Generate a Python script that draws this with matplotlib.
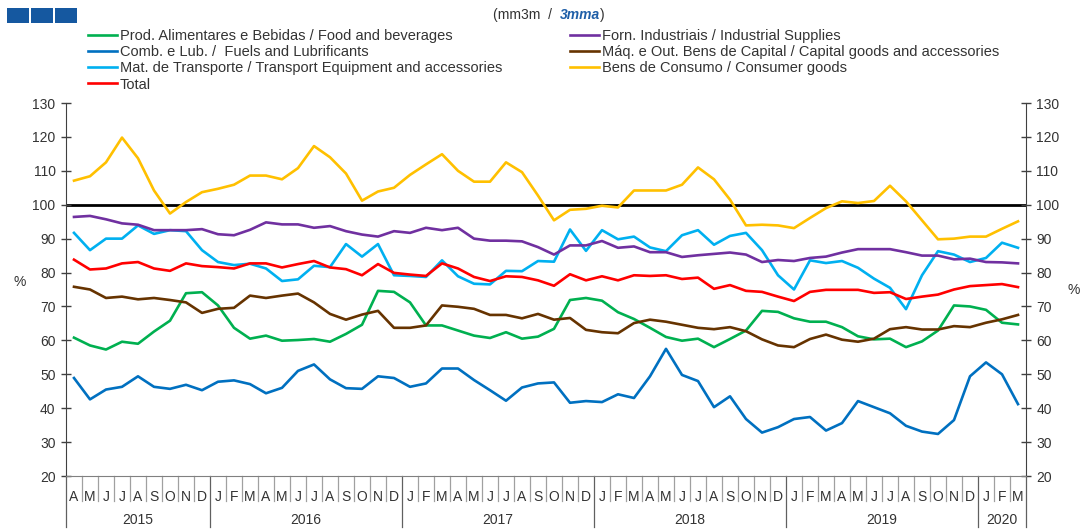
import matplotlib
matplotlib.use("Agg")
import matplotlib.pyplot as plt
import matplotlib.transforms as mtransforms
from matplotlib.patches import Rectangle

plt.rcParams['font.family'] = ['Liberation Sans', 'DejaVu Sans']

# months Apr 2015 .. Mar 2020
month_labels = list("AMJJASOND") + list("JFMAMJJASOND") * 4 + list("JFM")
years = ['2015', '2016', '2017', '2018', '2019', '2020']
year_len = [9, 12, 12, 12, 12, 3]

food = [60.8, 58.5, 57.3, 59.6, 59.0, 62.6, 65.8, 73.9, 74.2, 70.3, 63.7, 60.5, 61.4, 59.9, 60.1, 60.4, 59.6, 61.9, 64.6, 74.6,
        74.3, 71.2, 64.4, 64.4, 62.9, 61.4, 60.7, 62.4, 60.5, 61.1, 63.4, 71.9, 72.5, 71.7, 68.3, 66.3, 63.7, 61.0, 59.9, 60.5,
        58.0, 60.4, 62.9, 68.7, 68.4, 66.5, 65.5, 65.5, 63.9, 61.2, 60.3, 60.5, 58.0, 59.7, 62.9, 70.3, 70.0, 69.0, 65.2, 64.7]
fuels = [48.9, 42.6, 45.5, 46.3, 49.4, 46.3, 45.7, 46.9, 45.3, 47.8, 48.2, 47.1, 44.4, 46.0, 51.0, 52.9, 48.5, 45.9, 45.7, 49.4,
         48.9, 46.3, 47.3, 51.7, 51.7, 48.3, 45.3, 42.2, 46.1, 47.3, 47.6, 41.6, 42.1, 41.8, 44.1, 43.0, 49.4, 57.5, 49.8, 48.0,
         40.3, 43.5, 36.8, 32.8, 34.4, 36.8, 37.4, 33.4, 35.6, 42.1, 40.3, 38.5, 34.8, 33.1, 32.4, 36.5, 49.4, 53.5, 50.0, 41.2]
transport = [91.7, 86.6, 90.0, 90.0, 93.9, 91.4, 92.5, 92.2, 86.6, 83.1, 82.2, 82.6, 81.2, 77.5, 78.0, 82.0, 81.6, 88.4, 84.7, 88.4,
             79.2, 79.0, 78.7, 83.6, 78.9, 76.7, 76.5, 80.5, 80.4, 83.4, 83.2, 92.7, 86.4, 92.5, 89.8, 90.6, 87.4, 86.3, 91.0, 92.5,
             88.2, 90.8, 91.7, 86.6, 79.2, 75.0, 83.6, 82.8, 83.4, 81.4, 78.2, 75.5, 69.2, 79.2, 86.3, 85.3, 83.1, 84.3, 88.8, 87.3]
total = [83.8, 80.9, 81.2, 82.7, 83.1, 81.2, 80.5, 82.7, 81.9, 81.6, 81.2, 82.7, 82.7, 81.5, 82.5, 83.4, 81.5, 81.0, 79.2, 82.5,
         79.9, 79.4, 79.0, 82.7, 81.2, 78.7, 77.5, 78.9, 78.7, 77.7, 76.1, 79.5, 77.7, 78.9, 77.7, 79.2, 79.0, 79.2, 78.1, 78.5,
         75.2, 76.3, 74.6, 74.3, 72.9, 71.6, 74.3, 74.9, 74.9, 74.9, 74.0, 74.2, 72.2, 72.9, 73.5, 75.0, 76.0, 76.3, 76.6, 75.7]
industrial = [96.4, 96.7, 95.7, 94.5, 94.1, 92.5, 92.5, 92.5, 92.8, 91.3, 91.0, 92.6, 94.8, 94.2, 94.2, 93.2, 93.7, 92.2, 91.2, 90.6,
              92.2, 91.7, 93.2, 92.5, 93.2, 90.0, 89.4, 89.4, 89.2, 87.5, 85.3, 88.0, 88.0, 89.3, 87.3, 87.7, 86.0, 86.0, 84.6, 85.1,
              85.5, 85.9, 85.3, 83.1, 83.7, 83.4, 84.3, 84.7, 85.9, 86.9, 86.9, 86.9, 86.0, 85.0, 85.0, 83.9, 84.1, 83.1, 83.0, 82.7]
capital = [75.8, 75.0, 72.5, 72.9, 72.1, 72.5, 71.9, 71.2, 68.1, 69.3, 69.6, 73.2, 72.5, 73.2, 73.8, 71.2, 67.8, 66.1, 67.6, 68.7,
           63.7, 63.7, 64.4, 70.3, 69.9, 69.3, 67.5, 67.5, 66.5, 67.8, 66.1, 66.6, 63.1, 62.4, 62.1, 65.1, 66.1, 65.5, 64.6, 63.7,
           63.3, 63.9, 62.7, 60.3, 58.5, 58.0, 60.4, 61.7, 60.2, 59.6, 60.5, 63.3, 63.9, 63.2, 63.2, 64.2, 63.9, 65.2, 66.2, 67.5]
consumer = [107.1, 108.4, 112.5, 119.8, 113.7, 104.2, 97.4, 100.8, 103.7, 104.7, 105.9, 108.6, 108.6, 107.5, 110.8, 117.3, 114.0, 109.2, 101.2, 103.9,
            105.0, 108.8, 111.9, 114.9, 110.0, 106.8, 106.8, 112.5, 109.6, 102.7, 95.4, 98.5, 98.8, 99.7, 99.2, 104.2, 104.2, 104.2, 105.9, 111.0,
            107.5, 101.5, 93.9, 94.1, 93.9, 93.1, 96.1, 99.0, 101.0, 100.5, 101.1, 105.6, 101.0, 95.4, 89.8, 90.0, 90.6, 90.6, 92.9, 95.1]

x = list(range(len(month_labels)))

fig = plt.figure(figsize=(10.8, 5.32), dpi=100)
ax = fig.add_axes([66/1080, 1-476/532, 960/1080, 373/532])

lw = 1.9
l_food, = ax.plot(x, food, color='#00B050', lw=lw, label='Prod. Alimentares e Bebidas / Food and beverages')
l_fuel, = ax.plot(x, fuels, color='#0070C0', lw=lw, label='Comb. e Lub. /  Fuels and Lubrificants')
l_tran, = ax.plot(x, transport, color='#00B0F0', lw=lw, label='Mat. de Transporte / Transport Equipment and accessories')
l_ind, = ax.plot(x, industrial, color='#7030A0', lw=lw, label='Forn. Industriais / Industrial Supplies')
l_cap, = ax.plot(x, capital, color='#663300', lw=lw, label='Máq. e Out. Bens de Capital / Capital goods and accessories')
l_cons, = ax.plot(x, consumer, color='#FFC000', lw=lw, label='Bens de Consumo / Consumer goods')
l_tot, = ax.plot(x, total, color='#FF0000', lw=lw, label='Total')
ax.axhline(100, color='black', lw=2.0, zorder=1)

ax.set_xlim(-0.5, len(x) - 0.5)
ax.set_ylim(20, 130)
ax.set_yticks(range(20, 131, 10))
ax.tick_params(axis='y', direction='inout', length=7, width=1, color='#404040',
               left=True, right=True, labelleft=True, labelright=True,
               labelsize=10, labelcolor='#333333', pad=4)
ax.set_xticks(x)
ax.set_xticklabels(month_labels)
ax.tick_params(axis='x', length=0, labelsize=10, labelcolor='#333333', pad=10)
ax.spines['top'].set_visible(False)
ax.spines['left'].set_color('#404040')
ax.spines['right'].set_color('#404040')
ax.spines['bottom'].set_color('#808080')

ax.text(-0.048, 0.52, '%', transform=ax.transAxes, ha='center', va='center', fontsize=10, color='#333333')
ax.text(1.05, 0.5, '%', transform=ax.transAxes, ha='center', va='center', fontsize=10, color='#333333')

# month / year separators under the axis
trans = mtransforms.blended_transform_factory(ax.transData, ax.transAxes)
bounds = [-0.5]
for n in year_len:
    bounds.append(bounds[-1] + n)
for i in range(len(x) - 1):
    b = i + 0.5
    if b in bounds:
        continue
    ax.plot([b, b], [0, -0.066], transform=trans, color='#a0a0a0', lw=0.9, clip_on=False)
for b in bounds:
    ax.plot([b, b], [0, -0.138], transform=trans, color='#606060', lw=0.9, clip_on=False)
for k, yr in enumerate(years):
    ax.text((bounds[k] + bounds[k + 1]) / 2, -0.118, yr, transform=trans,
            ha='center', va='center', fontsize=10, color='#333333')

# legends
leg_kw = dict(loc='upper left', frameon=False, fontsize=10.5, handlelength=2.0,
              handletextpad=0.2, labelspacing=0.15, borderpad=0, borderaxespad=0,
              labelcolor='#333333')
fig.legend(handles=[l_food, l_fuel, l_tran, l_tot], bbox_to_anchor=(88/1080, 1-29/532), **leg_kw)
fig.legend(handles=[l_ind, l_cap, l_cons], bbox_to_anchor=(570/1080, 1-29/532), **leg_kw)

# top-left boxes
for k in range(3):
    fig.patches.append(Rectangle(((7 + 24*k)/1080, 1-23/532), 22/1080, 15/532,
                                 transform=fig.transFigure, facecolor='#1558A0',
                                 edgecolor='none'))

# subtitle
r = fig.canvas.get_renderer()
t1 = fig.text(493/1080, 1-15/532, '(mm3m  /  ', fontsize=10, color='#333333', va='center')
bb = t1.get_window_extent(r)
t2 = fig.text(bb.x1/1080, 1-15/532, '3mma', fontsize=10, color='#1F5FA8', va='center',
              fontweight='bold', fontstyle='italic')
bb2 = t2.get_window_extent(r)
fig.text(bb2.x1/1080, 1-15/532, ')', fontsize=10, color='#333333', va='center')

fig.savefig('out.png', dpi=100)
